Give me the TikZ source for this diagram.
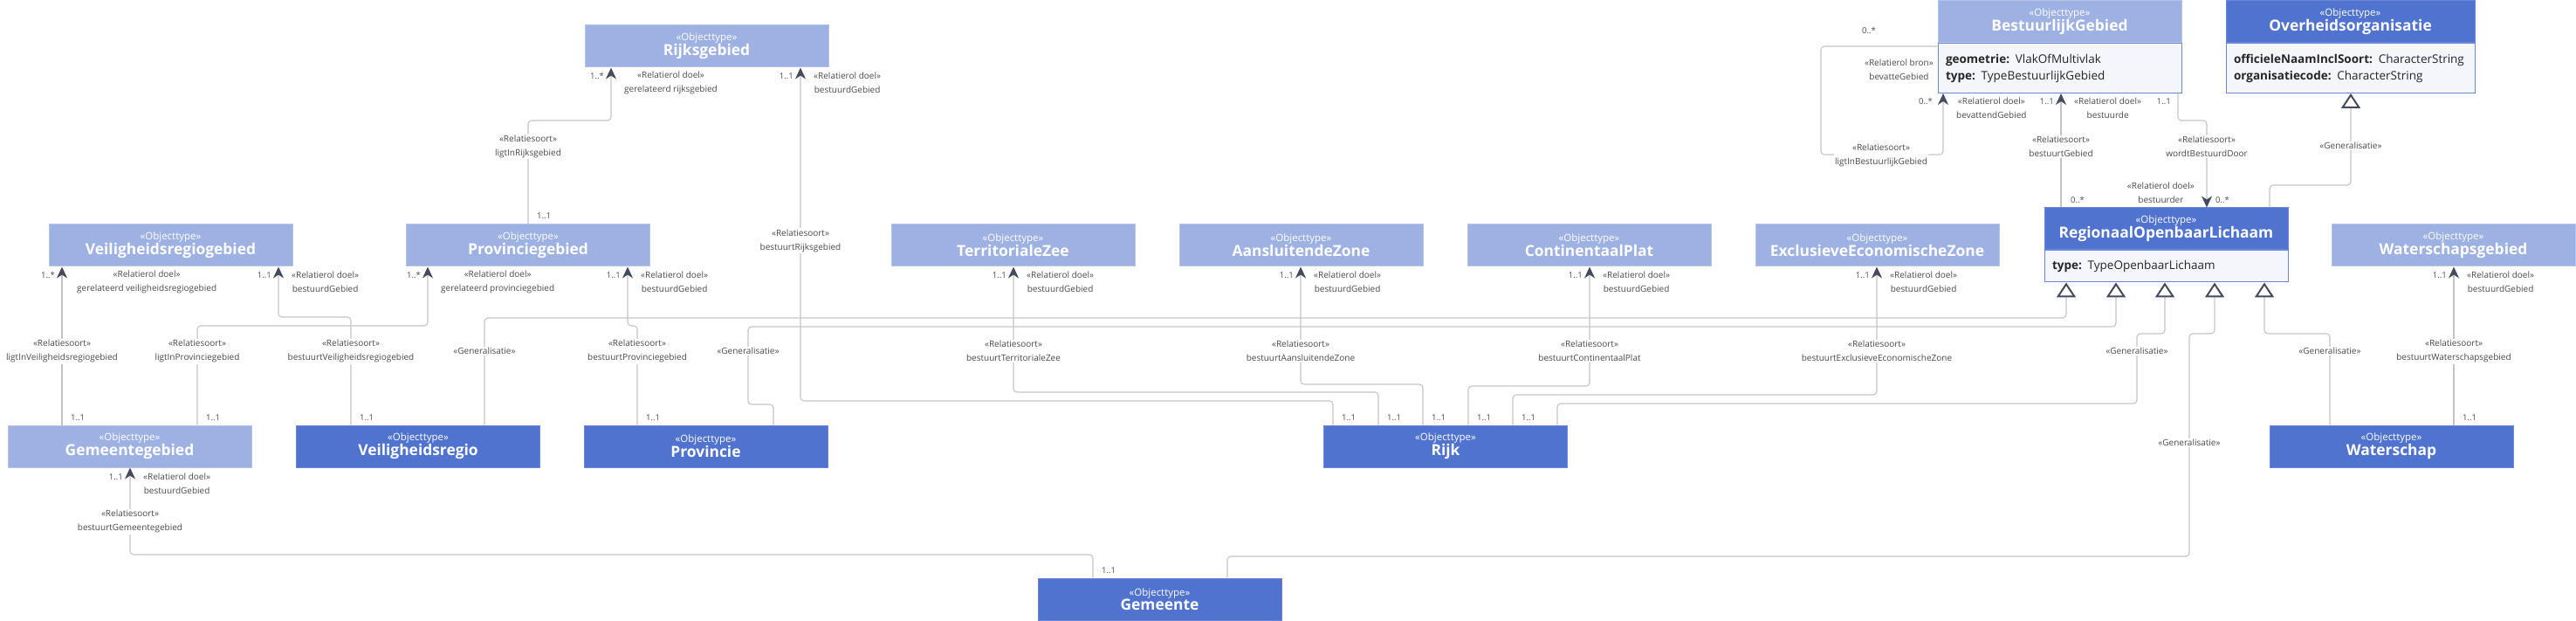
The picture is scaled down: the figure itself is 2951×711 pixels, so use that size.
\documentclass[tikz,border=0pt]{standalone}
\usepackage{fontspec}
\setmainfont{Open Sans}
\usetikzlibrary{arrows.meta}

\definecolor{lightblue}{HTML}{9DB1E3}
\definecolor{lightline}{HTML}{B6C4EC}
\definecolor{darkblue}{HTML}{4F73CE}
\definecolor{darkline}{HTML}{6A88D6}
\definecolor{attrfill}{HTML}{F5F6FB}
\definecolor{wire}{HTML}{C4C4C4}
\definecolor{tipcol}{HTML}{434B5C}
\definecolor{labelcol}{HTML}{4A4A4A}

\newcommand{\objtype}[1]{{\fontsize{11.5}{12}\selectfont «Objecttype»}\\{\fontsize{17.4}{21}\selectfont\bfseries #1}}

\tikzset{
  head/.style={draw=lightline, line width=1pt, fill=lightblue, text=white, align=center,
    minimum width=279pt, minimum height=48pt, inner sep=0pt},
  darkhead/.style={head, draw=darkline, fill=darkblue},
  attrs/.style={draw=darkline, line width=1pt, fill=attrfill, text=black!85, align=left, anchor=north,
    inner xsep=9pt, inner ysep=0pt, text width=261pt, font=\fontsize{13.5}{19}\selectfont},
  assoc/.style={draw=wire, line width=1.1pt, rounded corners=4pt,
    -{Stealth[length=13pt,width=12pt,inset=4pt,color=tipcol]}},
  gen/.style={draw=wire, line width=1.1pt, rounded corners=4pt,
    -{Triangle[length=17pt,width=22pt,color=tipcol,fill=white,line width=2pt]}},
  rel/.style={fill=white, text=labelcol, align=center, font=\fontsize{10}{16}\selectfont, inner sep=1.5pt},
  mult/.style={text=labelcol, font=\fontsize{9.5}{11}\selectfont, inner sep=0pt},
  role/.style={text=labelcol, align=center, font=\fontsize{10}{16}\selectfont, inner sep=0pt, anchor=west},
}

\begin{document}
\begin{tikzpicture}[x=1pt,y=-1pt]
\useasboundingbox (0,0) rectangle (2951,711);

% objecttypes
\node[head] (rijksgeb) at (809.5,53) {\objtype{Rijksgebied}};
\node[head] (vrgeb) at (195.5,281) {\objtype{Veiligheidsregiogebied}};
\node[head] (provgeb) at (605,281) {\objtype{Provinciegebied}};
\node[head] (tzee) at (1160.5,281) {\objtype{TerritorialeZee}};
\node[head] (azone) at (1490.5,281) {\objtype{AansluitendeZone}};
\node[head] (cplat) at (1820.5,281) {\objtype{ContinentaalPlat}};
\node[head] (eez) at (2150.5,281) {\objtype{ExclusieveEconomischeZone}};
\node[head] (wsgeb) at (2810.5,281) {\objtype{Waterschapsgebied}};
\node[head] (gemgeb) at (148.5,511) {\objtype{Gemeentegebied}};
\node[darkhead] (vreg) at (479,511) {\objtype{Veiligheidsregio}};
\node[darkhead] (prov) at (808.5,511) {\objtype{Provincie}};
\node[darkhead] (rijk) at (1656,511) {\objtype{Rijk}};
\node[darkhead] (wschap) at (2739.5,511) {\objtype{Waterschap}};
\node[darkhead] (gem) at (1328.5,686) {\objtype{Gemeente}};

\node[head] (bg) at (2359.5,24.5) {\objtype{BestuurlijkGebied}};
\node[attrs, minimum height=57pt] (bgattr) at (bg.south)
  {\textbf{geometrie:} VlakOfMultivlak\\\textbf{type:} TypeBestuurlijkGebied};
\node[darkhead, minimum width=285pt] (oo) at (2692.5,24.5) {\objtype{Overheidsorganisatie}};
\node[attrs, minimum height=57pt, text width=267pt] (ooattr) at (oo.south)
  {\textbf{officieleNaamInclSoort:} CharacterString\\\textbf{organisatiecode:} CharacterString};
\node[darkhead] (rol) at (2481.5,262) {\objtype{RegionaalOpenbaarLichaam}};
\node[attrs, minimum height=36pt] (rolattr) at (rol.south) {\textbf{type:} TypeOpenbaarLichaam};

% relaties
\draw[assoc] (provgeb.north) |- (700,138) -- (rijksgeb.south -| 700,0);
\draw[assoc] (rijk.north -| 1527,0) |- (917,459) -- (rijksgeb.south -| 917,0);
\draw[assoc] (gemgeb.north -| 71,0) -- (vrgeb.south -| 71,0);
\draw[assoc] (gemgeb.north -| 226,0) |- (490,373) -- (provgeb.south -| 490,0);
\draw[assoc] (vreg.north -| 402,0) |- (319,363) -- (vrgeb.south -| 319,0);
\draw[assoc] (prov.north -| 730,0) |- (719,373) -- (provgeb.south -| 719,0);
\draw[assoc] (rijk.north -| 1579,0) |- (1161,449) -- (tzee.south -| 1161,0);
\draw[assoc] (rijk.north -| 1630,0) |- (1490,440) -- (azone.south -| 1490,0);
\draw[assoc] (rijk.north -| 1682,0) |- (1821,442) -- (cplat.south -| 1821,0);
\draw[assoc] (rijk.north -| 1733,0) |- (2150,452) -- (eez.south -| 2150,0);
\draw[assoc] (wschap.north -| 2811,0) -- (wsgeb.south -| 2811,0);
\draw[assoc] (gem.north -| 1252,0) |- (149,635) -- (gemgeb.south -| 149,0);
\draw[assoc] (bgattr.west |- 0,53) -| (2086,177) -| (bgattr.south -| 2226,0);
\draw[assoc] (rol.north -| 2361,0) -- (bgattr.south -| 2361,0);
\draw[assoc] (bgattr.south -| 2495,0) |- (2528,138) -- (rol.north -| 2528,0);

% generalisaties
\draw[gen] (rol.north -| 2600,0) |- (2693,212) -- (ooattr.south -| 2693,0);
\draw[gen] (vreg.north -| 555,0) |- (2367,364) -- (rolattr.south -| 2367,0);
\draw[gen] (prov.north -| 886,0) |- (857,463) |- (2424,374) -- (rolattr.south -| 2424,0);
\draw[gen] (rijk.north -| 1784,0) |- (2448,462) |- (2480,382) -- (rolattr.south -| 2480,0);
\draw[gen] (gem.north -| 1406,0) |- (2508,637) |- (2537,382) -- (rolattr.south -| 2537,0);
\draw[gen] (wschap.north -| 2669,0) |- (2594,382) -- (rolattr.south -| 2594,0);

% relatiesoort labels
\node[rel] (n1) at (605,168) {«Relatiesoort»\\ligtInRijksgebied};
\node[rel] (n2) at (917,276) {«Relatiesoort»\\bestuurtRijksgebied};
\node[rel] (n3) at (71,402) {«Relatiesoort»\\ligtInVeiligheidsregiogebied};
\node[rel] (n4) at (226,402) {«Relatiesoort»\\ligtInProvinciegebied};
\node[rel] (n5) at (402,402) {«Relatiesoort»\\bestuurtVeiligheidsregiogebied};
\node[rel] (n6) at (730,402) {«Relatiesoort»\\bestuurtProvinciegebied};
\node[rel] (n7) at (1161,402) {«Relatiesoort»\\bestuurtTerritorialeZee};
\node[rel] (n8) at (1490,402) {«Relatiesoort»\\bestuurtAansluitendeZone};
\node[rel] (n9) at (1821,402) {«Relatiesoort»\\bestuurtContinentaalPlat};
\node[rel] (n10) at (2150,402) {«Relatiesoort»\\bestuurtExclusieveEconomischeZone};
\node[rel] (n11) at (2811,402) {«Relatiesoort»\\bestuurtWaterschapsgebied};
\node[rel] (n12) at (149,597) {«Relatiesoort»\\bestuurtGemeentegebied};
\node[rel] (n13) at (2155,178) {«Relatiesoort»\\ligtInBestuurlijkGebied};
\node[rel] (n14) at (2361,168) {«Relatiesoort»\\bestuurtGebied};
\node[rel] (n15) at (2528,168) {«Relatiesoort»\\wordtBestuurdDoor};
\node[rel] (g1) at (555,402) {«Generalisatie»};
\node[rel] (g2) at (857,402) {«Generalisatie»};
\node[rel] (g3) at (2448,402) {«Generalisatie»};
\node[rel] (g4) at (2508,507) {«Generalisatie»};
\node[rel] (g5) at (2669,402) {«Generalisatie»};
\node[rel] (g6) at (2693,167) {«Generalisatie»};

% rollen en multipliciteiten
\node[mult, anchor=east] (m1) at (692,87) {1..*};
\node[role] (r1) at (715,95) {«Relatierol doel»\\gerelateerd rijksgebied};
\node[mult, anchor=east] (m2) at (909,87) {1..1};
\node[role] (r2) at (932,95) {«Relatierol doel»\\bestuurdGebied};
\node[mult, anchor=east] (m3) at (63,315) {1..*};
\node[role] (r3) at (88,323) {«Relatierol doel»\\gerelateerd veiligheidsregiogebied};
\node[mult, anchor=east] (m4) at (311,315) {1..1};
\node[role] (r4) at (334,323) {«Relatierol doel»\\bestuurdGebied};
\node[mult, anchor=east] (m5) at (482,315) {1..*};
\node[role] (r5) at (505,323) {«Relatierol doel»\\gerelateerd provinciegebied};
\node[mult, anchor=east] (m6) at (711,315) {1..1};
\node[role] (r6) at (734,323) {«Relatierol doel»\\bestuurdGebied};
\node[mult, anchor=east] (m7) at (1153,315) {1..1};
\node[role] (r7) at (1176,323) {«Relatierol doel»\\bestuurdGebied};
\node[mult, anchor=east] (m8) at (1482,315) {1..1};
\node[role] (r8) at (1505,323) {«Relatierol doel»\\bestuurdGebied};
\node[mult, anchor=east] (m9) at (1813,315) {1..1};
\node[role] (r9) at (1836,323) {«Relatierol doel»\\bestuurdGebied};
\node[mult, anchor=east] (m10) at (2142,315) {1..1};
\node[role] (r10) at (2165,323) {«Relatierol doel»\\bestuurdGebied};
\node[mult, anchor=east] (m11) at (2803,315) {1..1};
\node[role] (r11) at (2826,323) {«Relatierol doel»\\bestuurdGebied};
\node[mult, anchor=east] (m12) at (141,546) {1..1};
\node[role] (r12) at (164,554) {«Relatierol doel»\\bestuurdGebied};
\node[mult, anchor=east] (m13) at (2214,116) {0..*};
\node[role] (r13) at (2241,124) {«Relatierol doel»\\bevattendGebied};
\node[mult, anchor=east] (m14) at (2353,116) {1..1};
\node[role] (r14) at (2376,124) {«Relatierol doel»\\bestuurde};
\node[mult, anchor=east] (m15) at (2487,116) {1..1};
\node[mult] (m16) at (2141,35) {0..*};
\node[role, anchor=east] (r16) at (2215,80) {«Relatierol bron»\\bevatteGebied};
\node[mult, anchor=west] (m17) at (2372,229) {0..*};
\node[mult, anchor=west] (m18) at (2538,229) {0..*};
\node[role, anchor=east] (r18) at (2514,221) {«Relatierol doel»\\bestuurder};

\node[mult, anchor=west] (s1) at (615,247) {1..1};
\node[mult, anchor=west] (s2) at (81,478) {1..1};
\node[mult, anchor=west] (s3) at (236,478) {1..1};
\node[mult, anchor=west] (s4) at (412,478) {1..1};
\node[mult, anchor=west] (s5) at (740,478) {1..1};
\node[mult, anchor=west] (s6) at (1537,478) {1..1};
\node[mult, anchor=west] (s7) at (1589,478) {1..1};
\node[mult, anchor=west] (s8) at (1640,478) {1..1};
\node[mult, anchor=west] (s9) at (1692,478) {1..1};
\node[mult, anchor=west] (s10) at (1743,478) {1..1};
\node[mult, anchor=west] (s11) at (2821,478) {1..1};
\node[mult, anchor=west] (s12) at (1262,653) {1..1};
\end{tikzpicture}
\end{document}
